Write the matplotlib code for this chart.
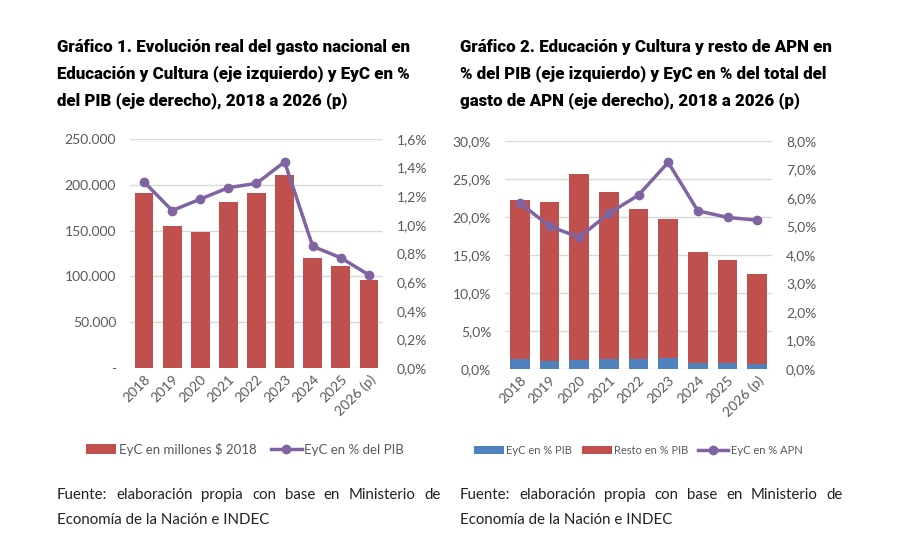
import numpy as np
import matplotlib
matplotlib.use("Agg")
from matplotlib import pyplot as plt
from matplotlib.ticker import FuncFormatter

years = ["2018", "2019", "2020", "2021", "2022", "2023", "2024", "2025", "2026 (p)"]

# Grafico 1
eyc_millones = [191000, 155000, 148000, 181000, 190600, 211000, 120400, 111000, 96400]
eyc_pct_pib = [1.30, 1.10, 1.18, 1.26, 1.29, 1.44, 0.85, 0.77, 0.65]

# Grafico 2
total_pct_pib = [22.3, 22.0, 25.7, 23.3, 21.1, 19.7, 15.4, 14.4, 12.5]
eyc_pct_apn = [5.83, 5.01, 4.62, 5.46, 6.10, 7.25, 5.55, 5.32, 5.22]
resto_pct_pib = [t - e for t, e in zip(total_pct_pib, eyc_pct_pib)]

RED = "#C0504D"
BLUE = "#4F81BD"
PURPLE = "#8064A2"
GRAY = "#595959"
GRID = "#D9D9D9"

plt.rcParams["font.family"] = ["Lato", "DejaVu Sans"]

fig = plt.figure(figsize=(9, 5.48), dpi=100)
W, H = 900, 548


def box(x0, y0, x1, y1):
    return [x0 / W, 1 - y1 / H, (x1 - x0) / W, (y1 - y0) / H]


def es_num(v, pos):
    if v == 0:
        return "-"
    return f"{v:,.0f}".replace(",", ".")


def es_pct(dec):
    def f(v, pos):
        return (f"{v:.{dec}f}%").replace(".", ",")
    return f


def style(ax, ax2):
    for a in (ax, ax2):
        for s in a.spines.values():
            s.set_visible(False)
        a.tick_params(length=0, labelsize=10, labelcolor=GRAY)
    ax.grid(axis="y", color=GRID, lw=1)
    ax.set_axisbelow(True)
    ax.set_xlim(-0.5, len(years) - 0.5)
    ax.set_xticks(range(len(years)))
    ax.set_xticklabels(years, rotation=45, ha="right", rotation_mode="anchor",
                       fontsize=10, color=GRAY)
    ax.tick_params(axis="y", pad=10)
    ax2.tick_params(axis="y", pad=10)


x = np.arange(len(years))

# ---- Grafico 1 ----
ax1 = fig.add_axes(box(130, 139, 383, 368))
ax1b = ax1.twinx()
b1 = ax1.bar(x, eyc_millones, width=0.67, color=RED, label="EyC en millones $ 2018")
l1, = ax1b.plot(x, eyc_pct_pib, color=PURPLE, lw=2.5, marker="o", ms=6,
                label="EyC en % del PIB")
ax1.set_ylim(0, 250000)
ax1.set_yticks(np.arange(0, 250001, 50000))
ax1.yaxis.set_major_formatter(FuncFormatter(es_num))
ax1b.set_ylim(0, 1.6)
ax1b.set_yticks(np.arange(0, 1.61, 0.2))
ax1b.yaxis.set_major_formatter(FuncFormatter(es_pct(1)))
style(ax1, ax1b)
fig.legend(handles=[b1, l1], loc="center", bbox_to_anchor=(245 / W, 1 - 449 / H),
           ncol=2, frameon=False, fontsize=9.5, labelcolor=GRAY,
           handlelength=2.3, handletextpad=0.2, columnspacing=1.1)

# ---- Grafico 2 ----
ax2 = fig.add_axes(box(505, 141, 772, 369))
ax2b = ax2.twinx()
b2 = ax2.bar(x, eyc_pct_pib, width=0.66, color=BLUE, label="EyC en % PIB")
b3 = ax2.bar(x, resto_pct_pib, width=0.66, bottom=eyc_pct_pib, color=RED,
             label="Resto en % PIB")
l2, = ax2b.plot(x, eyc_pct_apn, color=PURPLE, lw=2.5, marker="o", ms=6,
                label="EyC en % APN")
ax2.set_ylim(0, 30)
ax2.set_yticks(np.arange(0, 30.1, 5))
ax2.yaxis.set_major_formatter(FuncFormatter(es_pct(1)))
ax2b.set_ylim(0, 8)
ax2b.set_yticks(np.arange(0, 8.1, 1))
ax2b.yaxis.set_major_formatter(FuncFormatter(es_pct(1)))
style(ax2, ax2b)
fig.legend(handles=[b2, b3, l2], loc="center", bbox_to_anchor=(638 / W, 1 - 450 / H),
           ncol=3, frameon=False, fontsize=8, labelcolor=GRAY,
           handlelength=2.7, handletextpad=0.2, columnspacing=0.9)

# ---- titles ----
t1 = ["Gráfico 1. Evolución real del gasto nacional en",
      "Educación y Cultura (eje izquierdo) y EyC en %",
      "del PIB (eje derecho), 2018 a 2026 (p)"]
t2 = ["Gráfico 2. Educación y Cultura y resto de APN en",
      "% del PIB (eje izquierdo) y EyC en % del total del",
      "gasto de APN (eje derecho), 2018 a 2026 (p)"]
for i, (a, b) in enumerate(zip(t1, t2)):
    y = 1 - (47 + i * 27) / H
    fig.text(57 / W, y, a, fontsize=12.2, fontweight="heavy", va="center",
             color="black", family=["Roboto", "DejaVu Sans"])
    fig.text(460 / W, y, b, fontsize=12.2, fontweight="heavy", va="center",
             color="black", family=["Roboto", "DejaVu Sans"])

# ---- source notes (justified first line) ----
src1 = "Fuente: elaboración propia con base en Ministerio de"
src2 = "Economía de la Nación e INDEC"
fig.canvas.draw()
renderer = fig.canvas.get_renderer()
for x0, x1 in [(57, 441), (460, 843)]:
    words = src1.split()
    texts = [fig.text(0, 1 - 495 / H, w, fontsize=10.8, va="center", color="#222222")
             for w in words]
    widths = [t.get_window_extent(renderer).width for t in texts]
    gap = ((x1 - x0) - sum(widths)) / (len(words) - 1)
    cx = x0
    for t, w in zip(texts, widths):
        t.set_x(cx / W)
        cx += w + gap
    fig.text(x0 / W, 1 - 520 / H, src2, fontsize=10.8, va="center", color="#222222")

fig.savefig("out.png", dpi=100, facecolor="white")
